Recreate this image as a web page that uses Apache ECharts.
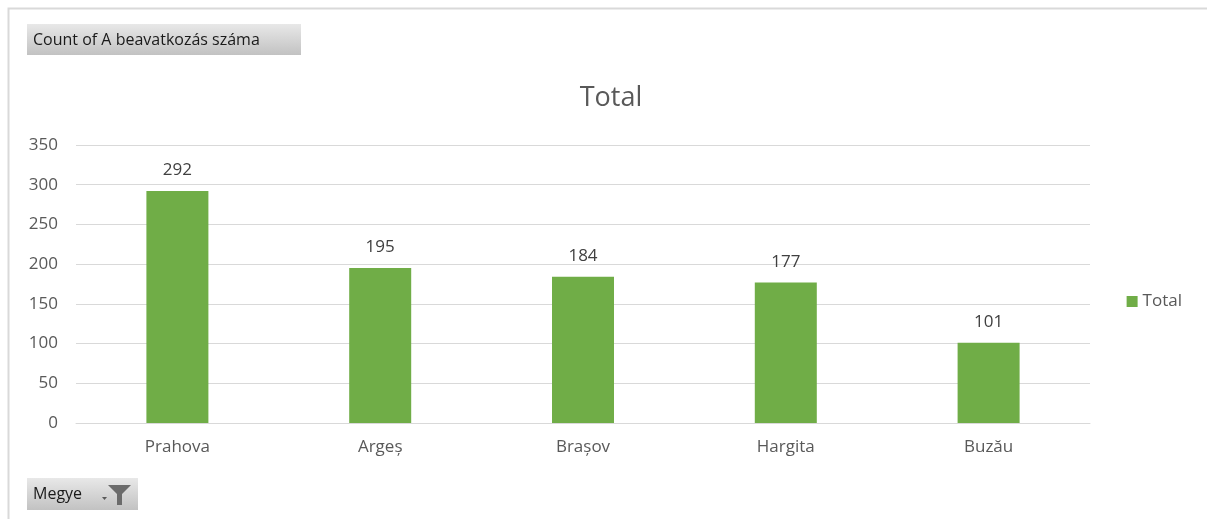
<!DOCTYPE html>
<html>
<head>
<meta charset="utf-8">
<script src="https://cdn.jsdelivr.net/npm/echarts@6/dist/echarts.min.js"></script>
<style>
  html, body { margin: 0; padding: 0; background: #fff; }
  #chart { width: 1207px; height: 519px; }
</style>
</head>
<body>
<div id="chart"></div>
<script>
var megye = ['Prahova', 'Argeș', 'Brașov', 'Hargita', 'Buzău'];
var total = [292, 195, 184, 177, 101];
var yTicks = [0, 50, 100, 150, 200, 250, 300, 350];

var FONT = 'Open Sans, DejaVu Sans, sans-serif';
var chart = echarts.init(document.getElementById('chart'));

function btnFill() {
  return new echarts.graphic.LinearGradient(0, 0, 0, 1, [
    { offset: 0, color: '#e8e8e8' },
    { offset: 1, color: '#c2c2c2' }
  ]);
}

var option = {
  animation: false,
  title: {
    text: 'Total',
    left: 606, top: 80, textAlign: 'center',
    textStyle: { color: '#595959', fontSize: 27, fontWeight: 'normal', fontFamily: FONT }
  },
  legend: {
    data: ['Total'],
    right: 20, top: 288,
    icon: 'rect', itemWidth: 11, itemHeight: 11, itemGap: 4,
    textStyle: { color: '#595959', fontSize: 17, fontFamily: FONT }
  },
  grid: { left: 76, right: 117, top: 145, bottom: 96, containLabel: false },
  xAxis: {
    type: 'category',
    data: megye,
    axisLine: { lineStyle: { color: '#d9d9d9' } },
    axisTick: { show: false },
    axisLabel: { color: '#595959', fontSize: 17, fontFamily: FONT, margin: 16 }
  },
  yAxis: {
    type: 'value',
    min: 0, max: 350, interval: 50,
    axisLine: { show: false },
    axisTick: { show: false },
    splitLine: { lineStyle: { color: '#d9d9d9' } },
    axisLabel: {
      color: '#595959', fontSize: 17, fontFamily: FONT, margin: 18,
      formatter: function (v) { return yTicks.indexOf(v) >= 0 ? String(v) : ''; }
    }
  },
  series: [{
    name: 'Total',
    type: 'bar',
    data: total,
    barWidth: 62,
    itemStyle: { color: '#70ad47' },
    label: {
      show: true, position: 'top', distance: 12,
      color: '#404040', fontSize: 17, fontFamily: FONT
    }
  }],
  graphic: [
    {
      type: 'rect',
      shape: { x: 8.5, y: 8.5, width: 1230, height: 540 },
      style: { fill: 'none', stroke: '#d9d9d9', lineWidth: 2 },
      silent: true
    },
    {
      type: 'rect',
      shape: { x: 27, y: 24, width: 274, height: 31 },
      style: { fill: btnFill() }
    },
    {
      type: 'text',
      x: 33, y: 40,
      style: { text: 'Count of A beavatkozás száma', fill: '#1a1a1a', font: '16px ' + FONT, verticalAlign: 'middle' }
    },
    {
      type: 'rect',
      shape: { x: 27, y: 478, width: 111, height: 32 },
      style: { fill: btnFill() }
    },
    {
      type: 'text',
      x: 33, y: 494,
      style: { text: 'Megye', fill: '#1a1a1a', font: '16px ' + FONT, verticalAlign: 'middle' }
    },
    {
      type: 'polygon',
      shape: { points: [[102, 497], [107, 497], [104.5, 500]] },
      style: { fill: '#595959' }
    },
    {
      type: 'polygon',
      shape: { points: [[108, 485], [131, 485], [122, 494], [122, 505], [117, 505], [117, 494]] },
      style: { fill: '#6b6b6b' }
    }
  ]
};
chart.setOption(option);
</script>
</body>
</html>
